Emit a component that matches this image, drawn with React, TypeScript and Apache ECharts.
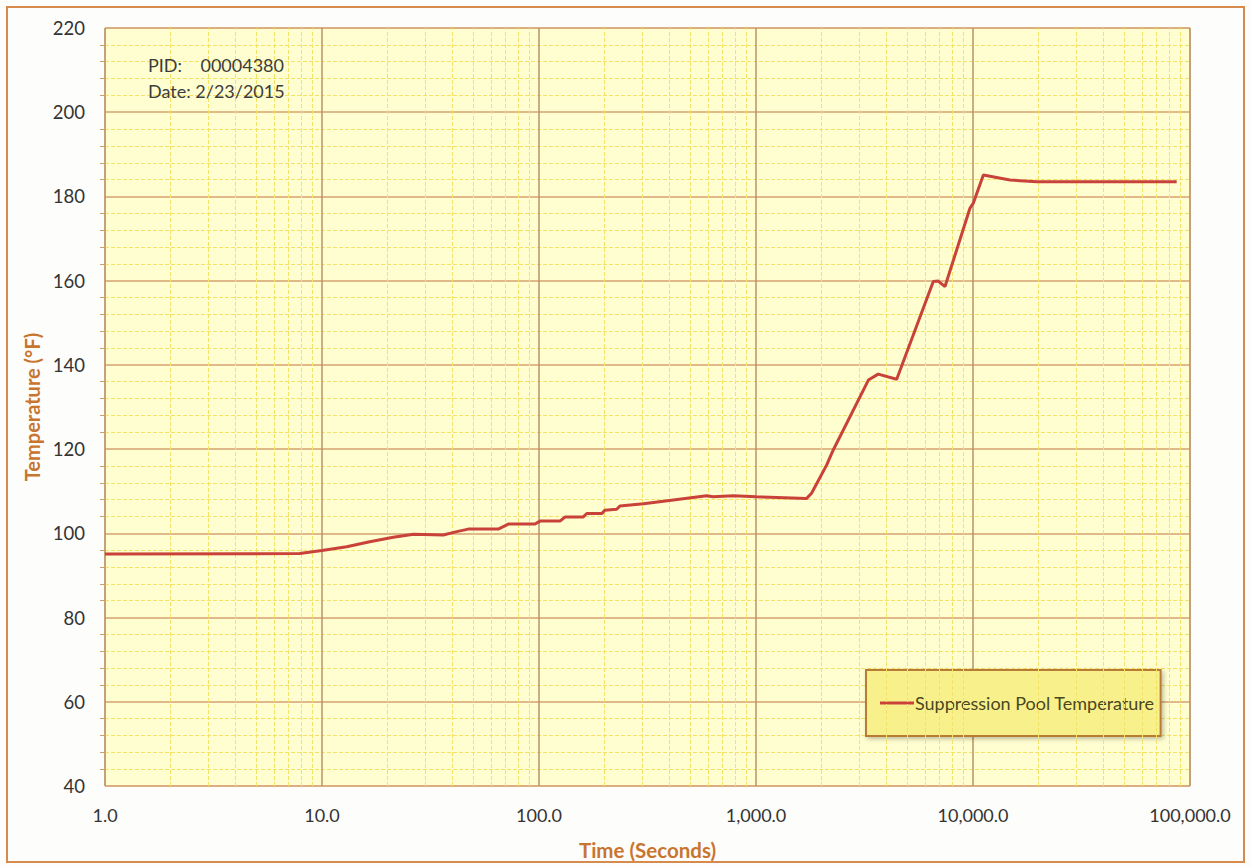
import React, { useEffect, useRef } from "react";
import * as echarts from "echarts";

const seriesName = "Suppression Pool Temperature";
const timeSeconds = [1, 7.9, 10, 13, 16.6, 21.3, 26.4, 36.2, 41.8, 47.2, 64.9, 72.2, 95.9, 101, 125, 132, 160, 166, 195, 201, 228, 236, 303, 416, 592, 635, 787, 1000, 1712, 1803, 2115, 2270, 3295, 3656, 4450, 6560, 6920, 7430, 9680, 10030, 11160, 14800, 19650, 86800];
const temperatureF = [95.1, 95.2, 95.9, 96.8, 98.0, 99.05, 99.8, 99.6, 100.4, 101.0, 101.0, 102.2, 102.2, 102.9, 102.9, 103.9, 103.9, 104.7, 104.7, 105.5, 105.7, 106.5, 107.0, 107.9, 108.9, 108.7, 108.9, 108.7, 108.3, 109.5, 116.2, 119.8, 136.4, 137.8, 136.6, 159.8, 159.9, 158.6, 177.2, 178.4, 185.1, 183.9, 183.5, 183.5];
const yMin = 40;
const yMax = 220;
const yInterval = 20;
const xMin = 1;
const xMax = 100000;
const pidText = "PID:    00004380";
const dateText = "Date: 2/23/2015";
const xAxisTitle = "Time (Seconds)";
const yAxisTitle = "Temperature (°F)";

const FONT = "Lato, 'Open Sans', sans-serif";

function fmtX(v: number): string {
  const s = v.toFixed(1);
  const [i, d] = s.split(".");
  return i.replace(/\B(?=(\d{3})+(?!\d))/g, ",") + "." + d;
}

export default function App() {
  const ref = useRef<HTMLDivElement>(null);
  useEffect(() => {
    if (!ref.current) return;
    const chart = echarts.init(ref.current, null, { renderer: "svg" });
    const minorX: { xAxis: number }[] = [];
    for (let d = 1; d < xMax; d *= 10) {
      for (let k = 2; k <= 9; k++) minorX.push({ xAxis: k * d });
    }
    const data = timeSeconds.map((t, i) => [t, temperatureF[i]]);
    chart.setOption({
      animation: false,
      backgroundColor: "#fdfdfb",
      textStyle: { fontFamily: FONT },
      grid: {
        left: 105,
        right: 61,
        top: 28,
        bottom: 81,
        show: true,
        backgroundColor: "#fffed0",
        borderColor: "#d9a878",
        borderWidth: 1,
      },
      legend: {
        left: 866,
        top: 670,
        orient: "vertical",
        backgroundColor: "#f8f08a",
        borderColor: "#b97c34",
        borderWidth: 2,
        shadowColor: "rgba(0,0,0,0.25)",
        shadowBlur: 4,
        shadowOffsetX: 2,
        shadowOffsetY: 2,
        padding: [24, 6, 24, 14],
        icon: "rect",
        itemWidth: 34,
        itemHeight: 3,
        itemGap: 0,
        textStyle: { fontFamily: FONT, fontSize: 18, color: "#4a4720", padding: [0, 0, 0, -4] },
        data: [seriesName],
      },
      xAxis: {
        type: "log",
        logBase: 10,
        min: xMin,
        max: xMax,
        name: xAxisTitle,
        nameLocation: "middle",
        nameGap: 53,
        nameTextStyle: { fontFamily: FONT, fontSize: 20.5, fontWeight: "bold", color: "#c87530" },
        axisLine: { show: false },
        axisTick: { show: false },
        axisLabel: { formatter: (v: number) => fmtX(v), fontSize: 18, color: "#333333", margin: 20 },
        splitLine: { show: true, lineStyle: { color: "#b99266", width: 1.5 } },
      },
      yAxis: {
        type: "value",
        min: yMin,
        max: yMax,
        interval: yInterval,
        name: yAxisTitle,
        nameLocation: "middle",
        nameGap: 60,
        nameTextStyle: { fontFamily: FONT, fontSize: 20, fontWeight: "bold", color: "#c87530" },
        axisLine: { show: false },
        axisTick: { show: false },
        minorTick: { show: true, splitNumber: 5, length: 5, lineStyle: { color: "#c8a070" } },
        axisLabel: { fontSize: 18.5, color: "#333333", margin: 20 },
        splitLine: { show: true, lineStyle: { color: "#d6a272", width: 1.5 } },
        minorSplitLine: { show: true, lineStyle: { color: "#f4e168", type: "dashed", width: 1 } },
      },
      graphic: [
        {
          type: "rect",
          shape: { x: 7, y: 7, width: 1237, height: 855 },
          style: { fill: "none", stroke: "#d68a4c", lineWidth: 2 },
          z: -1,
        },
        {
          type: "text",
          left: 148,
          top: 56,
          style: { text: pidText, fontFamily: FONT, fontSize: 18, fill: "#3c3c3c" },
          z: 10,
        },
        {
          type: "text",
          left: 148,
          top: 82,
          style: { text: dateText, fontFamily: FONT, fontSize: 18, fill: "#3c3c3c" },
          z: 10,
        },
      ],
      series: [
        {
          name: "minor-grid",
          type: "line",
          data: [[xMin, yMin]],
          symbol: "none",
          lineStyle: { width: 0, opacity: 0 },
          silent: true,
          z: 1,
          markLine: {
            silent: true,
            symbol: ["none", "none"],
            label: { show: false },
            lineStyle: { color: "#f4e168", type: "dashed", width: 1 },
            data: minorX,
          },
        },
        {
          name: seriesName,
          type: "line",
          data,
          symbol: "none",
          smooth: false,
          z: 5,
          lineStyle: { color: "#c8423a", width: 3 },
          itemStyle: { color: "#c8423a" },
        },
      ],
    });
    return () => chart.dispose();
  }, []);
  return (
    <div
      ref={ref}
      style={{ position: "fixed", left: 0, top: 0, width: 1251, height: 867 }}
    />
  );
}
